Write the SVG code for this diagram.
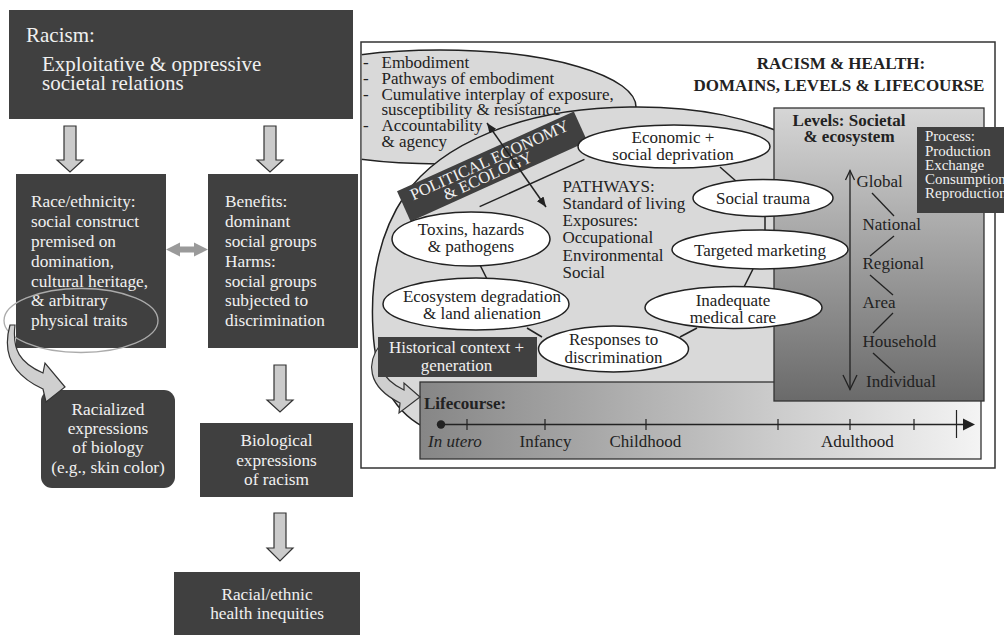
<svg xmlns="http://www.w3.org/2000/svg" width="1004" height="635" viewBox="0 0 1004 635">
<defs>
<style>
text{font-family:"Liberation Serif","Times New Roman",serif;}
.dk{fill:#404040}
.wt{fill:#f0f0f0}
.bk{fill:#222}
.f17{font-size:17px}
.f173{font-size:17.3px}
.b{font-weight:bold}
.mid{text-anchor:middle}
.ell{fill:#fff;stroke:#222;stroke-width:1.5}
.ln{stroke:#222;stroke-width:1.5;fill:none}
.barrow{fill:#cbcbcb;stroke:#333;stroke-width:1.2}
.curve{fill:#cfcfcf;stroke:#333;stroke-width:1.2}
.dom{fill:#d9d9d9;stroke:#222;stroke-width:1.5}
</style>
<linearGradient id="gLev" x1="0" y1="0" x2="0" y2="1"><stop offset="0" stop-color="#d6d6d6"/><stop offset="1" stop-color="#6a6a6a"/></linearGradient>
<linearGradient id="gLife" x1="0" y1="0" x2="1" y2="0"><stop offset="0" stop-color="#868686"/><stop offset="1" stop-color="#f4f4f4"/></linearGradient>
<clipPath id="frameClip"><rect x="361.8" y="42.8" width="632.4" height="424.4"/></clipPath>
<marker id="tri" viewBox="0 0 10 8" refX="10" refY="4" markerWidth="10" markerHeight="8" markerUnits="userSpaceOnUse" orient="auto-start-reverse"><path d="M0,0 L10,4 L0,8 Z" fill="#222"/></marker>
</defs>

<!-- ===== LEFT PANEL NODES ===== -->
<g id="racism">
<rect x="9" y="10" width="344" height="109" class="dk"/>
<text x="26" y="42" class="wt" font-size="21">Racism:</text>
<text x="42" y="71" class="wt" font-size="21">Exploitative &amp; oppressive</text>
<text x="42" y="90" class="wt" font-size="21">societal relations</text>
</g>

<g id="race-ethnicity">
<rect x="16" y="174" width="150" height="174" class="dk"/>
<text class="wt f173" x="31" y="207">Race/ethnicity:</text>
<text class="wt f173" x="31" y="227">social construct</text>
<text class="wt f173" x="31" y="247">premised on</text>
<text class="wt f173" x="31" y="267">domination,</text>
<text class="wt f173" x="31" y="287">cultural heritage,</text>
<text class="wt f173" x="31" y="306">&amp; arbitrary</text>
<text class="wt f173" x="31" y="326">physical traits</text>
<ellipse cx="81" cy="320.5" rx="77" ry="32" fill="none" stroke="#ababab" stroke-width="1.3"/>
</g>

<g id="benefits-harms">
<rect x="208" y="174" width="150" height="174" class="dk"/>
<text class="wt f173" x="225" y="207">Benefits:</text>
<text class="wt f173" x="225" y="227">dominant</text>
<text class="wt f173" x="225" y="247">social groups</text>
<text class="wt f173" x="225" y="267">Harms:</text>
<text class="wt f173" x="225" y="287">social groups</text>
<text class="wt f173" x="225" y="306">subjected to</text>
<text class="wt f173" x="225" y="326">discrimination</text>
</g>

<g id="racialized-biology">
<rect x="41" y="390" width="134" height="98" rx="11" class="dk"/>
<text class="wt f173 mid" x="108" y="415">Racialized</text>
<text class="wt f173 mid" x="108" y="434">expressions</text>
<text class="wt f173 mid" x="108" y="453">of biology</text>
<text class="wt f173 mid" x="108" y="473">(e.g., skin color)</text>
</g>

<g id="biological-expressions">
<rect x="200" y="423" width="153" height="74" class="dk"/>
<text class="wt f173 mid" x="276.5" y="446">Biological</text>
<text class="wt f173 mid" x="276.5" y="466">expressions</text>
<text class="wt f173 mid" x="276.5" y="485">of racism</text>
</g>

<g id="health-inequities">
<rect x="174" y="572" width="186" height="63" class="dk"/>
<text class="wt f173 mid" x="267" y="600">Racial/ethnic</text>
<text class="wt f173 mid" x="267" y="619">health inequities</text>
</g>

<!-- ===== RIGHT PANEL BACKGROUND ===== -->
<g id="frame">
<rect x="361" y="42" width="634" height="426" fill="#fff" stroke="#333" stroke-width="1.5"/>
</g>

<g id="domains" clip-path="url(#frameClip)">
<ellipse id="embodiment-domain" cx="440" cy="107" rx="196" ry="57" class="dom"/>
<path id="political-economy-domain" class="dom" d="M373,330 C370,280 378,235 405,195 C440,145 520,108 630,107 C700,106 750,118 800,140 L900,200 L900,430 L430,430 C395,415 375,380 373,330 Z"/>
</g>

<g id="lifecourse">
<rect x="420" y="382" width="561" height="77" fill="url(#gLife)" stroke="#333" stroke-width="1.3"/>
<text class="bk f17 b" x="424" y="409">Lifecourse:</text>
<line x1="441" y1="424.5" x2="964" y2="424.5" stroke="#222" stroke-width="1.3"/>
<circle cx="441" cy="424.5" r="4.2" fill="#222"/>
<path d="M963,418.5 L975,424.5 L963,430.5 Z" fill="#222"/>
<g stroke="#222" stroke-width="1.2">
<line x1="467" y1="419" x2="467" y2="430"/>
<line x1="545" y1="419" x2="545" y2="430"/>
<line x1="646" y1="419" x2="646" y2="430"/>
<line x1="778" y1="419" x2="778" y2="430"/>
<line x1="850" y1="419" x2="850" y2="430"/>
<line x1="914" y1="419" x2="914" y2="430"/>
<line x1="956.5" y1="410" x2="956.5" y2="438"/>
</g>
<text class="bk f17" x="428" y="447" font-style="italic">In utero</text>
<text class="bk f17" x="519.5" y="447">Infancy</text>
<text class="bk f17" x="609.5" y="447">Childhood</text>
<text class="bk f17" x="821" y="447">Adulthood</text>
</g>

<g id="levels">
<rect x="774" y="108" width="210" height="293" fill="url(#gLev)" stroke="#333" stroke-width="1.3"/>
<text class="bk f17 b mid" x="849" y="126">Levels: Societal</text>
<text class="bk f17 b mid" x="849" y="142">&amp; ecosystem</text>
<line x1="850" y1="170.5" x2="850" y2="389.5" stroke="#222" stroke-width="1.3"/>
<polyline points="845.5,180 850,170.5 854.5,180" fill="none" stroke="#222" stroke-width="1.3"/>
<polyline points="843,375 850,389.5 857,375" fill="none" stroke="#222" stroke-width="1.3"/>
<text class="bk f17" x="856.5" y="187">Global</text>
<text class="bk f17" x="862.5" y="230">National</text>
<text class="bk f17" x="862.5" y="269">Regional</text>
<text class="bk f17" x="862.5" y="308">Area</text>
<text class="bk f17" x="862.5" y="347">Household</text>
<text class="bk f17" x="866" y="387">Individual</text>
<g stroke="#222" stroke-width="1.3">
<line x1="872" y1="193" x2="894" y2="216"/>
<line x1="894" y1="236" x2="870" y2="256"/>
<line x1="870" y1="275" x2="893" y2="295"/>
<line x1="893" y1="313" x2="873" y2="333"/>
<line x1="873" y1="353" x2="895" y2="373"/>
</g>
</g>

<g id="process">
<rect x="917" y="127" width="95" height="86" class="dk"/>
<text class="wt" font-size="15" x="925" y="141">Process:</text>
<text class="wt" font-size="15" x="925" y="156">Production</text>
<text class="wt" font-size="15" x="925" y="170">Exchange</text>
<text class="wt" font-size="15" x="925" y="184.3">Consumption</text>
<text class="wt" font-size="15" x="925" y="198.3">Reproduction</text>
</g>

<g id="political-economy-banner" transform="translate(492,166) rotate(-24.3)">
<rect x="-97" y="-16" width="194" height="33" class="dk"/>
<text class="wt mid" font-size="16.5" x="0" y="-1">POLITICAL ECONOMY</text>
<text class="wt mid" font-size="16.5" x="-8" y="12.6">&amp; ECOLOGY</text>
<line x1="-28" y1="32" x2="87" y2="32" stroke="#222" stroke-width="1.5"/>
</g>

<!-- ===== CONNECTORS ===== -->
<g id="connectors">
<path class="barrow" d="M64,126 H76 V160 H83 L70,172 L57,160 H64 Z"/>
<path class="barrow" d="M264,126 H276 V160 H283 L270,172 L257,160 H264 Z"/>
<path class="barrow" d="M274,365 H286 V400 H293 L280,412 L267,400 H274 Z"/>
<path class="barrow" d="M274,513 H286 V548 H293 L280,561 L267,548 H274 Z"/>
<polygon fill="#9a9a9a" points="166,249.5 180,242.5 180,246.5 194,246.5 194,242.5 208,249.5 194,256.5 194,252.5 180,252.5 180,256.5"/>
<path class="curve" d="M10,325 C4,346 6,372 43,389 L46,402 L65,387 L45,363 L43,373 C20,363 12,350 15,325 Z"/>
<path class="curve" d="M380,345 C367,362 366,386 400,403 L399,413 L420,397 L404,383 L404,390 C379,378 377,362 386,348 Z"/>
<line class="ln" x1="487" y1="123" x2="546" y2="207" marker-start="url(#tri)" marker-end="url(#tri)"/>
<line class="ln" x1="720" y1="167" x2="737" y2="182"/>
<line class="ln" x1="765" y1="216" x2="765" y2="231"/>
<line class="ln" x1="753" y1="269" x2="744" y2="287"/>
<line class="ln" x1="697" y1="328" x2="680" y2="337"/>
<line class="ln" x1="542" y1="337" x2="527" y2="328"/>
<line class="ln" x1="487" y1="279" x2="480" y2="265"/>
</g>

<!-- ===== RIGHT PANEL NODES ===== -->
<g id="historical-context">
<rect x="378" y="337" width="159" height="40" class="dk"/>
<text class="wt f17 mid" x="456.5" y="352.7">Historical context +</text>
<text class="wt f17 mid" x="456.5" y="370.7">generation</text>
</g>

<g id="embodiment-text">
<text class="bk f17" x="363" y="67.5">-</text>
<text class="bk f17" x="381.5" y="67.5">Embodiment</text>
<text class="bk f17" x="363" y="83.5">-</text>
<text class="bk f17" x="381.5" y="83.5">Pathways of embodiment</text>
<text class="bk f17" x="363" y="99.5">-</text>
<text class="bk f17" x="381.5" y="99.5">Cumulative interplay of exposure,</text>
<text class="bk f17" x="381.5" y="115">susceptibility &amp; resistance</text>
<text class="bk f17" x="363" y="131">-</text>
<text class="bk f17" x="381.5" y="131">Accountability</text>
<text class="bk f17" x="381.5" y="147">&amp; agency</text>
</g>

<g id="title">
<text class="bk f17 b mid" x="841" y="69">RACISM &amp; HEALTH:</text>
<text class="bk f17 b mid" x="839" y="90.5">DOMAINS, LEVELS &amp; LIFECOURSE</text>
</g>

<g id="pathways">
<text class="bk f17" x="562.5" y="191.5">PATHWAYS:</text>
<text class="bk f17" x="562.5" y="208.5">Standard of living</text>
<text class="bk f17" x="562.5" y="226">Exposures:</text>
<text class="bk f17" x="562.5" y="243">Occupational</text>
<text class="bk f17" x="562.5" y="260.5">Environmental</text>
<text class="bk f17" x="562.5" y="277.5">Social</text>
</g>

<g id="economic-deprivation">
<ellipse class="ell" cx="674" cy="146.5" rx="96" ry="21.5"/>
<text class="bk f17 mid" x="673" y="142.5">Economic +</text>
<text class="bk f17 mid" x="673" y="160">social deprivation</text>
</g>

<g id="social-trauma">
<ellipse class="ell" cx="763" cy="198" rx="70" ry="18.5"/>
<text class="bk f17 mid" x="763" y="204">Social trauma</text>
</g>

<g id="targeted-marketing">
<ellipse class="ell" cx="760" cy="249.5" rx="88" ry="19.5"/>
<text class="bk f17 mid" x="760" y="255.5">Targeted marketing</text>
</g>

<g id="inadequate-care">
<ellipse class="ell" cx="733.5" cy="307.5" rx="88.5" ry="21"/>
<text class="bk f17 mid" x="733" y="306">Inadequate</text>
<text class="bk f17 mid" x="733" y="322.5">medical care</text>
</g>

<g id="responses-discrimination">
<ellipse class="ell" cx="613.5" cy="349" rx="75" ry="23"/>
<text class="bk f17 mid" x="613.5" y="345">Responses to</text>
<text class="bk f17 mid" x="613.5" y="362.5">discrimination</text>
</g>

<g id="toxins">
<ellipse class="ell" cx="471" cy="239" rx="79" ry="27"/>
<text class="bk f17 mid" x="471" y="235">Toxins, hazards</text>
<text class="bk f17 mid" x="471" y="251.5">&amp; pathogens</text>
</g>

<g id="ecosystem">
<ellipse class="ell" cx="476" cy="304" rx="93" ry="26"/>
<text class="bk f17 mid" x="482" y="301.5">Ecosystem degradation</text>
<text class="bk f17 mid" x="482" y="319">&amp; land alienation</text>
</g>
</svg>
